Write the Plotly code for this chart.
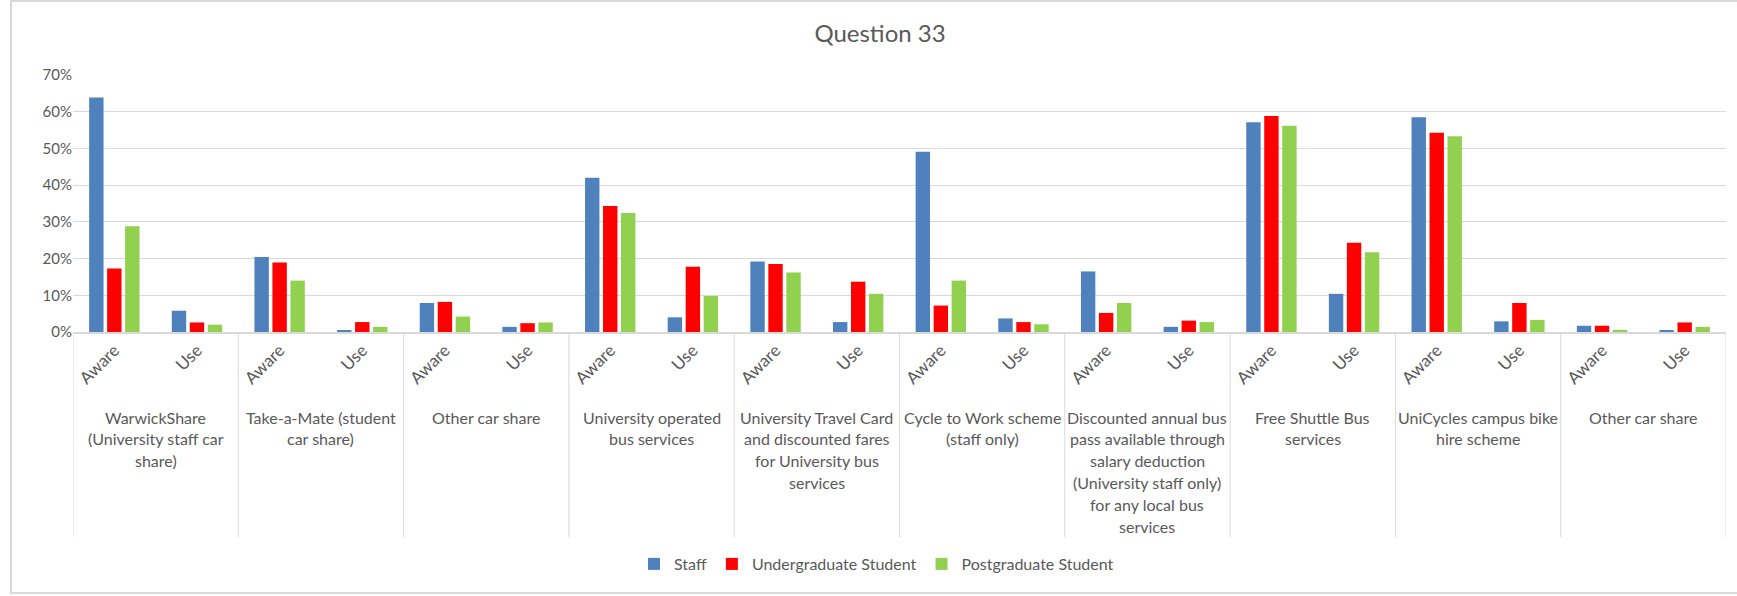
import plotly.graph_objects as go

# Survey data: share of respondents aware of / using each travel scheme (%)
groups = [
    "WarwickShare<br>(University staff car<br>share)",
    "Take-a-Mate (student<br>car share)",
    "Other car share",
    "University operated<br>bus services",
    "University Travel Card<br>and discounted fares<br>for University bus<br>services",
    "Cycle to Work scheme<br>(staff only)",
    "Discounted annual bus<br>pass available through<br>salary deduction<br>(University staff only)<br>for any local bus<br>services",
    "Free Shuttle Bus<br>services",
    "UniCycles campus bike<br>hire scheme",
    "Other car share",
]
subcats = ["Aware", "Use"]

staff = [63.9, 5.8, 20.4, 0.5, 7.9, 1.4, 42.0, 4.0, 19.2, 2.7,
         49.1, 3.7, 16.5, 1.4, 57.1, 10.4, 58.5, 2.9, 1.7, 0.4]
undergrad = [17.3, 2.6, 18.9, 2.7, 8.2, 2.4, 34.3, 17.8, 18.5, 13.7,
             7.2, 2.7, 5.2, 3.1, 58.8, 24.3, 54.3, 7.9, 1.7, 2.6]
postgrad = [28.8, 2.0, 14.0, 1.4, 4.2, 2.6, 32.4, 9.8, 16.2, 10.4,
            14.0, 2.1, 7.9, 2.7, 56.2, 21.7, 53.3, 3.3, 0.6, 1.4]

series = [
    ("Staff", staff, "#4F81BD"),
    ("Undergraduate Student", undergrad, "#FF0000"),
    ("Postgraduate Student", postgrad, "#92D050"),
]

# Canvas and plot-area geometry (pixels)
W, H = 1737, 596
PL, PR = 73, 1726
PT, PB = 75, 332
plot_w, plot_h = PR - PL, PB - PT

TEXT = "#595959"
GRID = "#D9D9D9"
FONT = "Lato"

n_cats = len(groups) * len(subcats)
xpos = list(range(n_cats))
ticktext = [s for _ in groups for s in subcats]


def px_x(p):
    return (p - PL) / plot_w


def px_y(p):
    return (PB - p) / plot_h


fig = go.Figure()
for name, vals, color in series:
    fig.add_trace(go.Bar(x=xpos, y=vals, name=name, marker_color=color,
                         marker_line_width=0))

shapes = []
# vertical dividers between the outer category groups
for g in range(len(groups) + 1):
    shapes.append(dict(type="line", xref="x", yref="paper",
                       x0=2 * g - 0.5, x1=2 * g - 0.5,
                       y0=0, y1=px_y(537), line=dict(color=GRID, width=1)))
# chart-area border
shapes.append(dict(type="rect", xref="paper", yref="paper",
                   x0=px_x(11), x1=px_x(1760), y0=px_y(593), y1=px_y(1),
                   line=dict(color=GRID, width=2), layer="below"))

annotations = []
line_gap = 21.8
for g, label in enumerate(groups):
    for i, line in enumerate(label.split("<br>")):
        annotations.append(dict(
            x=2 * g + 0.5, y=0, xref="x", yref="paper",
            text=line, showarrow=False, xanchor="center", yanchor="middle",
            yshift=-(85 + line_gap * i),
            font=dict(family=FONT, size=16, color=TEXT)))

fig.update_layout(
    width=W, height=H,
    margin=dict(l=PL, r=W - PR, t=PT, b=H - PB, pad=0),
    paper_bgcolor="white", plot_bgcolor="white",
    barmode="group", bargap=0.347, bargroupgap=0.2,
    title=dict(text="Question 33", x=880 / W, xref="container", xanchor="center",
               y=1 - 34 / H, yref="container", yanchor="middle",
               font=dict(family=FONT, size=24, color=TEXT)),
    xaxis=dict(range=[-0.5, n_cats - 0.5], tickmode="array", tickvals=xpos,
               ticktext=ticktext, tickangle=-45, showgrid=False, zeroline=False,
               showline=True, linecolor=GRID, linewidth=1.5, ticks="",
               tickfont=dict(family=FONT, size=17, color=TEXT)),
    yaxis=dict(range=[0, 70], dtick=10, ticksuffix="%", showgrid=True,
               gridcolor=GRID, gridwidth=1, zeroline=False, showline=False,
               ticks="", tickfont=dict(family=FONT, size=15, color=TEXT)),
    legend=dict(orientation="h", xref="container", yref="container",
                x=634 / W, xanchor="left", y=1 - 564 / H, yanchor="middle",
                font=dict(family=FONT, size=16, color=TEXT),
                bgcolor="rgba(0,0,0,0)"),
    shapes=shapes,
    annotations=annotations,
)

fig.write_html("out.html")
